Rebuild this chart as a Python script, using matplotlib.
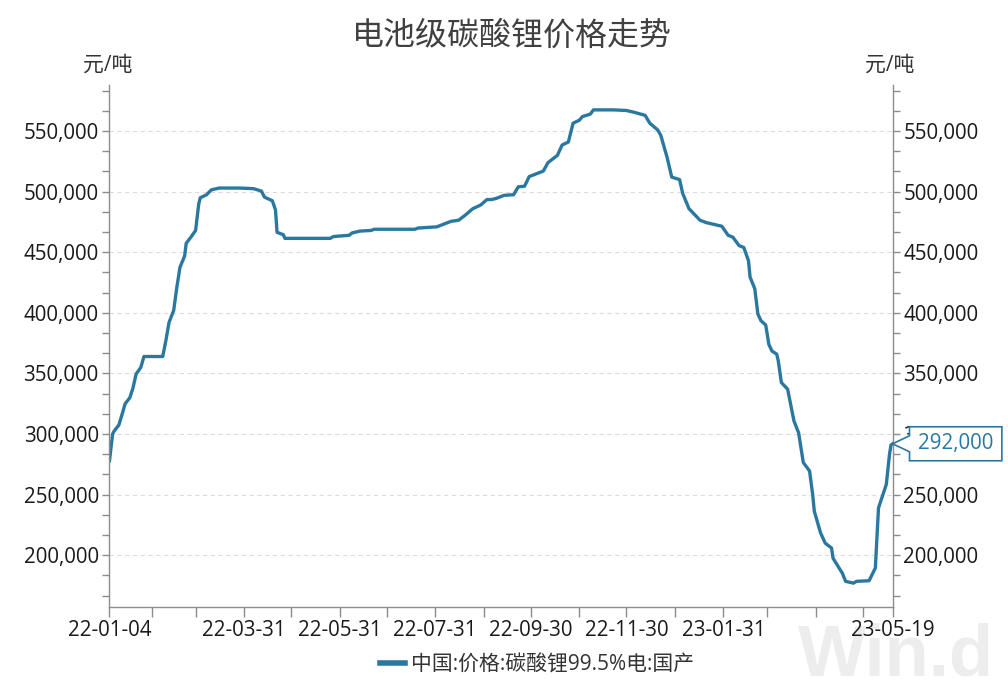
import matplotlib
matplotlib.use('Agg')
import matplotlib.pyplot as plt
import matplotlib.dates as mdates
import matplotlib.ticker as mticker
from matplotlib.path import Path
import pandas as pd

# Open Sans for digits, CJK glyphs fall back to Noto
plt.rcParams['font.family'] = ['Open Sans', 'Noto Sans CJK SC', 'DejaVu Sans']

title = '电池级碳酸锂价格走势'
unit = '元/吨'
series_name = '中国:价格:碳酸锂99.5%电:国产'

dates = [
    '2022-01-04', '2022-01-06', '2022-01-07', '2022-01-10', '2022-01-12', '2022-01-14',
    '2022-01-17', '2022-01-19', '2022-01-21', '2022-01-24', '2022-01-26', '2022-02-07',
    '2022-02-09', '2022-02-11', '2022-02-14', '2022-02-16', '2022-02-18', '2022-02-21',
    '2022-02-22', '2022-02-25', '2022-02-28', '2022-03-02', '2022-03-03', '2022-03-07',
    '2022-03-10', '2022-03-15', '2022-03-28', '2022-04-06', '2022-04-11', '2022-04-13',
    '2022-04-18', '2022-04-20', '2022-04-21', '2022-04-25', '2022-04-26', '2022-05-25',
    '2022-05-27', '2022-06-06', '2022-06-08', '2022-06-13', '2022-06-20', '2022-06-22',
    '2022-07-18', '2022-07-20', '2022-08-01', '2022-08-03', '2022-08-05', '2022-08-10',
    '2022-08-15', '2022-08-19', '2022-08-24', '2022-08-29', '2022-09-02', '2022-09-05',
    '2022-09-08', '2022-09-13', '2022-09-19', '2022-09-22', '2022-09-26', '2022-09-29',
    '2022-10-08', '2022-10-11', '2022-10-17', '2022-10-20', '2022-10-24', '2022-10-27',
    '2022-10-31', '2022-11-02', '2022-11-07', '2022-11-09', '2022-11-22', '2022-11-30',
    '2022-12-05', '2022-12-12', '2022-12-15', '2022-12-20', '2022-12-22', '2022-12-26',
    '2022-12-29', '2023-01-03', '2023-01-05', '2023-01-09', '2023-01-16', '2023-01-20',
    '2023-01-30', '2023-02-03', '2023-02-06', '2023-02-10', '2023-02-13', '2023-02-16',
    '2023-02-17', '2023-02-20', '2023-02-22', '2023-02-24', '2023-02-27', '2023-03-01',
    '2023-03-03', '2023-03-06', '2023-03-07', '2023-03-09', '2023-03-13', '2023-03-17',
    '2023-03-20', '2023-03-23', '2023-03-27', '2023-03-29', '2023-03-30', '2023-04-03',
    '2023-04-06', '2023-04-10', '2023-04-11', '2023-04-17', '2023-04-19', '2023-04-24',
    '2023-04-26', '2023-05-04', '2023-05-08', '2023-05-10', '2023-05-15', '2023-05-17',
    '2023-05-18', '2023-05-19',
]
prices = [
    278000, 300000, 302500, 307500, 316000, 325000,
    330000, 338000, 349500, 355000, 364000, 364000,
    377000, 392000, 402000, 421000, 437500, 447000,
    457500, 462500, 468000, 490000, 495000, 497500,
    501500, 503000, 503000, 502500, 500500, 495500,
    492500, 485000, 466500, 464500, 461500, 461500,
    463000, 464000, 466000, 467500, 468000, 469000,
    469000, 470000, 471000, 472000, 473000, 475500,
    476500, 480500, 486000, 489000, 493500, 493500,
    494500, 497000, 497500, 504000, 504500, 512500,
    517000, 524000, 530000, 538500, 541000, 556500,
    559000, 562000, 564000, 567500, 567500, 567000,
    565500, 563000, 556500, 551000, 546500, 528500,
    512000, 510000, 498500, 486000, 476500, 474500,
    471500, 464000, 462500, 455500, 454000, 443000,
    429500, 420000, 399000, 393500, 390000, 374000,
    368500, 366000, 360500, 342500, 337000, 311000,
    301000, 276500, 269500, 250000, 236500, 218500,
    210000, 206000, 197500, 185000, 178500, 177000,
    178500, 179000, 189500, 239000, 258500, 283000,
    291000, 292000,
]

label_dates = ['2022-01-04', '2022-03-31', '2022-05-31', '2022-07-31', '2022-09-30',
               '2022-11-30', '2023-01-31', '2023-05-19']

line_color = '#2a78a0'
axis_color = '#8c8c8c'
text_color = '#1a1a1a'
num_size = 14.8


def callout(offset_px, pad_x=8.5, pad_y=6.5, notch=8):
    # box with a notch pointing left, tip lands offset_px left of the text
    def style(x0, y0, width, height, mutation_size):
        left = x0 - pad_x
        right = x0 + width + pad_x
        bottom = y0 - pad_y
        top = y0 + height + pad_y
        cy = y0 + height / 2
        tip = x0 - offset_px
        verts = [(tip, cy), (left, cy - notch), (left, bottom), (right, bottom),
                 (right, top), (left, top), (left, cy + notch), (tip, cy)]
        codes = [Path.MOVETO] + [Path.LINETO] * 6 + [Path.CLOSEPOLY]
        return Path(verts, codes)
    return style


x = pd.to_datetime(dates)

fig = plt.figure(figsize=(10.08, 6.88), dpi=100)
ax = fig.add_axes([0.1086, 0.1177, 0.7769, 0.7587])

ax.plot(x, prices, color=line_color, lw=2.4, label=series_name, solid_joinstyle='round')

ax.set_xlim(pd.Timestamp(label_dates[0]), pd.Timestamp(label_dates[-1]))
ax.set_ylim(157300, 588000)

major_x = pd.to_datetime(label_dates)
month_ends = pd.date_range('2022-01-31', '2023-04-30', freq='ME')
minor_x = [d for d in month_ends if d not in major_x]
ax.set_xticks(major_x)
ax.set_xticks(minor_x, minor=True)
ax.xaxis.set_major_formatter(mdates.DateFormatter('%y-%m-%d'))

ax.yaxis.set_major_locator(mticker.MultipleLocator(50000))
ax.yaxis.set_minor_locator(mticker.MultipleLocator(50000 / 3))
ax.yaxis.set_major_formatter(mticker.FuncFormatter(lambda v, p: f'{v:,.0f}'))

ax.tick_params(axis='x', which='both', length=7.2, width=1, color=axis_color,
               labelsize=num_size, labelcolor=text_color, pad=2)
ax.tick_params(axis='y', which='both', length=4.7, width=1, color=axis_color,
               left=True, right=True, labelleft=True, labelright=True,
               labelsize=num_size, labelcolor=text_color, pad=3)

for side in ['left', 'right', 'bottom']:
    ax.spines[side].set_color(axis_color)
    ax.spines[side].set_linewidth(1)
ax.spines['top'].set_visible(False)

ax.yaxis.grid(True, which='major', color='#dcdcdc', ls=(0, (4, 3)), lw=0.8)
ax.set_axisbelow(True)

# last value callout
offset_pts = 18.3
ax.annotate(f'{prices[-1]:,}', xy=(x[-1], prices[-1]), xytext=(offset_pts, 0),
            textcoords='offset points', ha='left', va='center', fontsize=num_size,
            color=line_color, annotation_clip=False, clip_on=False, zorder=10,
            bbox=dict(boxstyle=callout(offset_pts * 100 / 72), fc='white',
                      ec=line_color, lw=1.2))

fig.text(0.508, 0.9477, title, fontsize=23, color='#404040', ha='center', va='center')
fig.text(108 / 1008, 1 - 65 / 688, unit, fontsize=15, color='#333333', ha='center', va='center')
fig.text(890 / 1008, 1 - 65 / 688, unit, fontsize=15, color='#333333', ha='center', va='center')

fig.text(798 / 1008, 13 / 688, 'Win.d', fontsize=52, fontweight='bold',
         family='Liberation Sans', color='#ededed', ha='left', va='baseline', zorder=-1)

fig.legend(loc='center', bbox_to_anchor=(537 / 1008, 23 / 688), frameon=False,
           fontsize=15, handlelength=1.2, handletextpad=0.3, borderpad=0,
           labelcolor='#333333')
for h in fig.legends[0].get_lines():
    h.set_linewidth(4)

fig.savefig('out.png', dpi=100)
